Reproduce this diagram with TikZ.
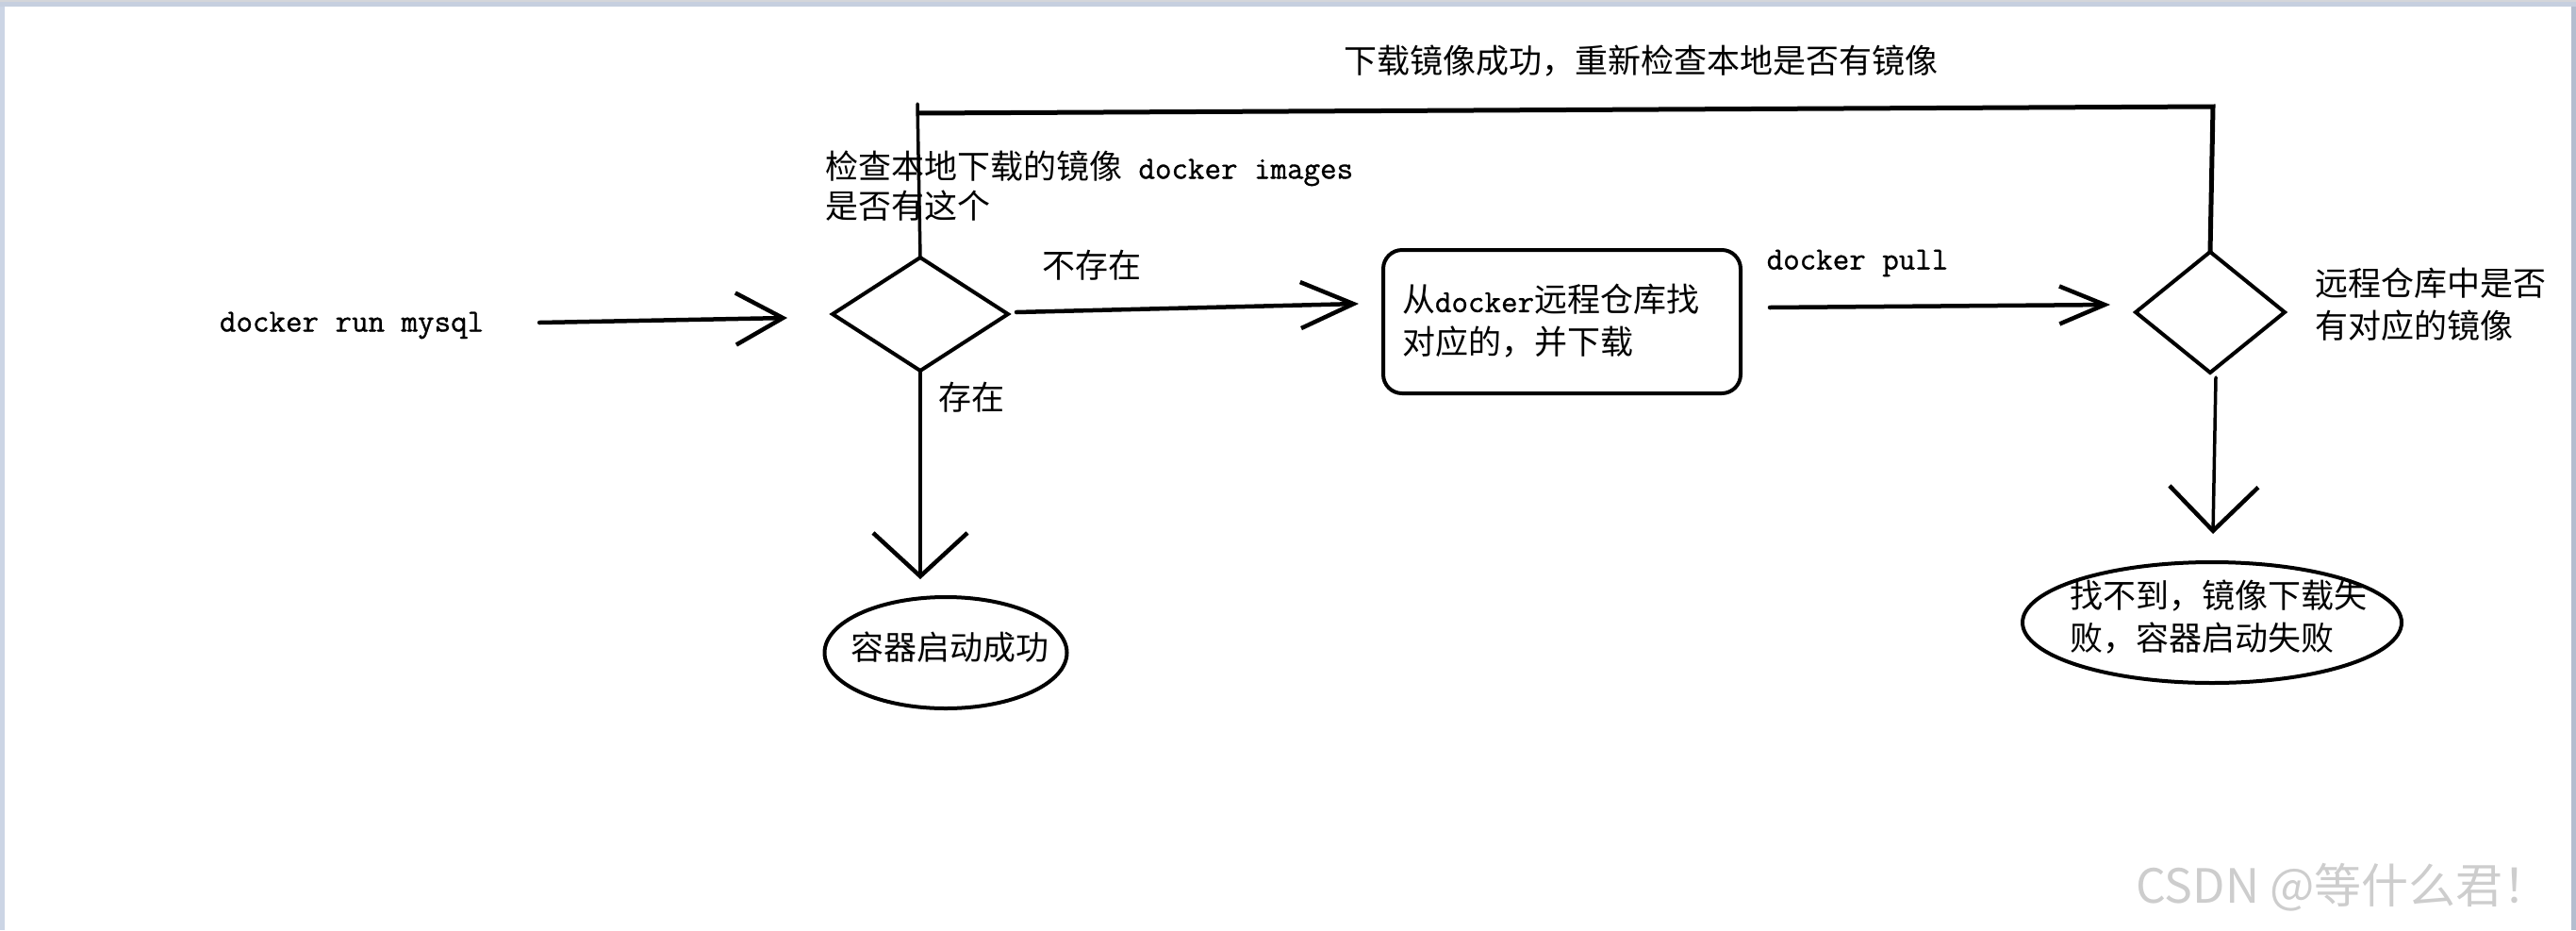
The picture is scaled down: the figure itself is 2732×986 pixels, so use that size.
\documentclass[tikz,border=0pt]{standalone}
\usepackage{fontspec}
\setmainfont{Noto Sans CJK SC}
\newfontfamily\dmono{Latin Modern Mono}[FakeBold=1]
\usetikzlibrary{shapes.geometric,arrows.meta,calc}
\definecolor{frametop}{HTML}{C6CFDF}
\definecolor{framegray}{HTML}{D4D6DA}
\definecolor{frameleft}{HTML}{CCD5E5}
\definecolor{frameright}{HTML}{B3BDCF}
\definecolor{wmgray}{HTML}{CDCDCD}
\begin{document}
\begin{tikzpicture}[x=0.5pt,y=-0.5pt,
  cn/.style={font=\fontsize{17.5pt}{22.5pt}\selectfont, inner sep=0pt, outer sep=0pt},
  cnl/.style={cn, anchor=west, align=left},
  mono/.style={font=\fontsize{17pt}{21pt}\selectfont\dmono, inner sep=0pt, outer sep=0pt},
  diam/.style={shape=diamond, draw=black, line width=2pt, inner sep=0pt, outer sep=0pt},
  ell/.style={shape=ellipse, draw=black, line width=2pt, inner sep=0pt, outer sep=0pt},
  stepbox/.style={draw=black, line width=2pt, rounded corners=10pt, inner sep=0pt, outer sep=0pt},
  hline/.style={line width=2.25pt, line cap=round},
  vline/.style={line width=1.75pt, line cap=round},
  topline/.style={line width=2.5pt, line join=miter},
  barb/.style={-{Straight Barb[#1, line width=2.25pt]}},
  wm/.style={font=\fontsize{25pt}{30pt}\selectfont, text=wmgray, inner sep=0pt}
]
\useasboundingbox (0,0) rectangle (2732,986);
\fill[white] (0,0) rectangle (2732,986);
% window frame
\fill[frametop] (0,0) rectangle (2732,7);
\fill[framegray] (0,0) rectangle (2732,2);
\fill[frameleft] (0,7) rectangle (5,986);
\fill[frameright] (2727,7) rectangle (2732,986);

% texts and shapes
\node[mono, anchor=west] (cmd) at (233,345) {docker run mysql};
\node[diam, minimum width=93pt, minimum height=60pt] (d1) at (976,333) {};
\node[cn, anchor=west, align=left, font=\fontsize{17.5pt}{21pt}\selectfont] (chk) at (875,197)
  {检查本地下载的镜像{\fontsize{17pt}{21pt}\selectfont\dmono\ docker images}\\是否有这个};
\node[cn] (nex) at (1158,281) {不存在};
\node[cn] (ex) at (1030,421) {存在};
\node[stepbox, minimum width=189.5pt, minimum height=76pt] (box) at (1656.5,341) {};
\node[cnl] (boxt) at (1487,340.5) {从{\fontsize{17pt}{21pt}\selectfont\dmono docker}远程仓库找\\对应的，并下载};
\node[mono] (pull) at (1970,279) {docker pull};
\node[diam, minimum width=79pt, minimum height=64pt] (d2) at (2344,331) {};
\node[cnl] (d2t) at (2455,322.5) {远程仓库中是否\\有对应的镜像};
\node[cn] (top) at (1740,65) {下载镜像成功，重新检查本地是否有镜像};
\node[ell, minimum width=128.5pt, minimum height=59pt] (e1) at (1003,692) {};
\node[cn] (e1t) at (1007,686) {容器启动成功};
\node[ell, minimum width=201pt, minimum height=64pt] (e2) at (2346,660) {};
\node[cnl] (e2t) at (2195,654.5) {找不到，镜像下载失\\败，容器启动失败};
\node[wm] (wmk) at (2485,941) {CSDN @等什么君！};

% connectors
\draw[hline, barb={length=25pt, width=27.5pt}] ($(cmd.east)+(59,-3)$) -- ($(d1.west)+(-48,4)$);
\draw[hline, barb={length=28pt, width=24.5pt}] ($(d1.east)+(9,-2)$) -- ($(box.west)+(-26,-19)$);
\draw[hline, barb={length=24pt, width=20pt}] ($(box.east)+(31,-15)$) -- ($(d2.west)+(-27,-8)$);
\draw[vline, barb={length=23pt, width=50pt}] (d1.south) -- ($(d1.south |- e1.north)+(0,-19)$);
\draw[vline, barb={length=23.5pt, width=47pt}] ($(d2.south)+(6,5)$) -- ($(d2.south |- e2.north)+(3,-30)$);
% feedback loop
\draw[vline] (d1.north) -- ($(d1.north)+(-3,-163)$);
\draw[topline] ($(d1.north)+(-3,-153)$) -- ($(d2.north)+(3,-154)$) -- (d2.north);
\end{tikzpicture}
\end{document}
